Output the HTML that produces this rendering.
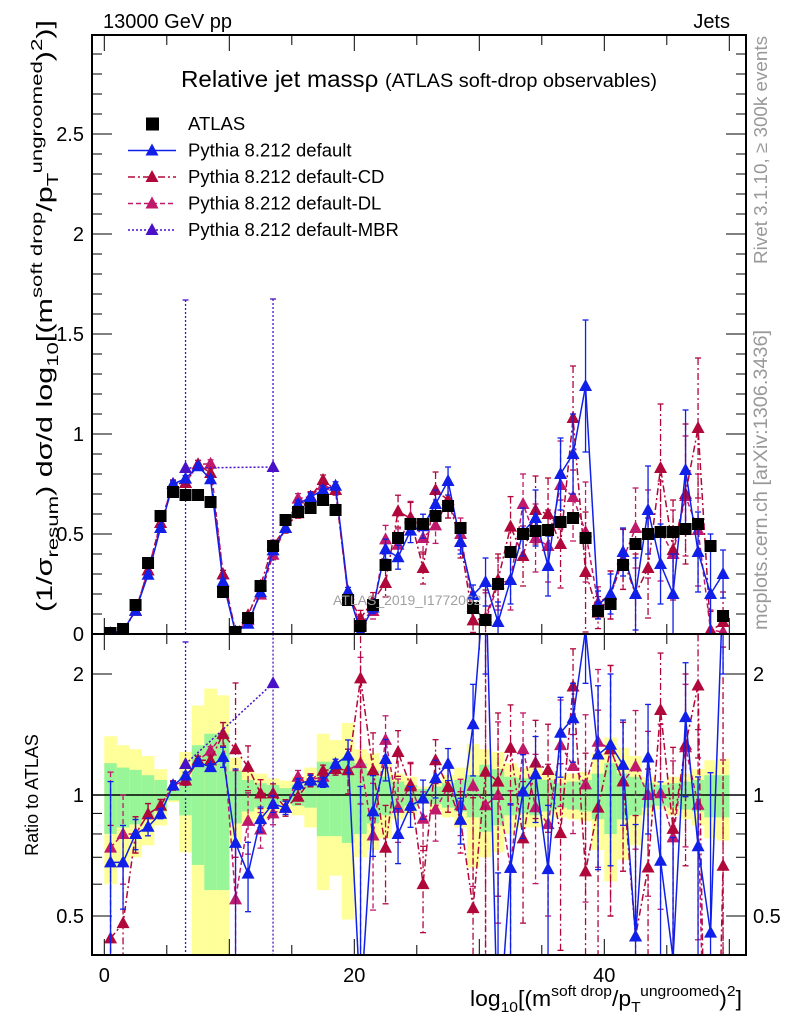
<!DOCTYPE html>
<html><head><meta charset="utf-8"><style>
html,body{margin:0;padding:0;background:#fff;overflow:hidden;width:786px;height:1024px;}
svg{display:block;font-family:"Liberation Sans",sans-serif;}
</style></head><body>
<svg id="chart" width="786" height="1024" viewBox="0 0 786 1024" xmlns="http://www.w3.org/2000/svg">
<defs>
<clipPath id="clipMain"><rect x="92" y="35" width="654" height="599"/></clipPath>
<clipPath id="clipRatio"><rect x="92" y="634" width="654" height="321"/></clipPath>
</defs>
<rect x="0" y="0" width="786" height="1024" fill="#fff"/>
<g id="bands" clip-path="url(#clipRatio)"></g>
<g id="ticks"></g>
<g id="mainMarks" clip-path="url(#clipMain)"></g>
<g id="ratioMarks" clip-path="url(#clipRatio)"></g>
<rect x="92" y="35" width="654" height="599" fill="none" stroke="#000" stroke-width="2"/>
<rect x="92" y="634" width="654" height="321" fill="none" stroke="#000" stroke-width="2"/>
<g id="labels">
<text x="103" y="28" font-size="20">13000 GeV pp</text>
<text x="730" y="28" font-size="20" text-anchor="end">Jets</text>
<text x="181" y="87" font-size="23" textLength="476" lengthAdjust="spacingAndGlyphs">Relative jet massρ <tspan font-size="19">(ATLAS soft-drop observables)</tspan></text>
<text x="333" y="605" font-size="14" fill="#a0a0a0">ATLAS_2019_I1772062</text>
<text transform="translate(767,150) rotate(-90)" font-size="18" fill="#999" text-anchor="middle" textLength="228" lengthAdjust="spacingAndGlyphs">Rivet 3.1.10, ≥ 300k events</text>
<text transform="translate(767,480) rotate(-90)" font-size="19" fill="#999" text-anchor="middle" textLength="300" lengthAdjust="spacingAndGlyphs">mcplots.cern.ch [arXiv:1306.3436]</text>
<text transform="translate(52,612) rotate(-90)" font-size="22" textLength="592" lengthAdjust="spacingAndGlyphs">(1/σ<tspan font-size="16" dy="6">resum</tspan><tspan dy="-6">) dσ/d log</tspan><tspan font-size="16" dy="6">10</tspan><tspan dy="-6">[(m</tspan><tspan font-size="16" dy="-10">soft drop</tspan><tspan dy="10">/p</tspan><tspan font-size="16" dy="6">T</tspan><tspan font-size="16" dy="-16">ungroomed</tspan><tspan dy="10">)</tspan><tspan font-size="16" dy="-10">2</tspan><tspan dy="10">)]</tspan></text>
<text transform="translate(38,795) rotate(-90)" font-size="18" text-anchor="middle">Ratio to ATLAS</text>
<text x="470" y="1006" font-size="22" textLength="272" lengthAdjust="spacingAndGlyphs">log<tspan font-size="15" dy="6">10</tspan><tspan dy="-6">[(m</tspan><tspan font-size="15" dy="-10">soft drop</tspan><tspan dy="10">/p</tspan><tspan font-size="15" dy="6">T</tspan><tspan font-size="15" dy="-16">ungroomed</tspan><tspan dy="10">)</tspan><tspan font-size="15" dy="-10">2</tspan><tspan dy="10">]</tspan></text>
</g>
<g id="legend"></g>
</svg>
<script>
const binCenters = [0.5,1.5,2.5,3.5,4.5,5.5,6.5,7.5,8.5,9.5,10.5,11.5,12.5,13.5,14.5,15.5,16.5,17.5,18.5,19.5,20.5,21.5,22.5,23.5,24.5,25.5,26.5,27.5,28.5,29.5,30.5,31.5,32.5,33.5,34.5,35.5,36.5,37.5,38.5,39.5,40.5,41.5,42.5,43.5,44.5,45.5,46.5,47.5,48.5,49.5];
const atlasValues = [0.005,0.025,0.145,0.355,0.59,0.71,0.695,0.695,0.66,0.21, 0.01,0.08,0.24,0.44,0.57,0.61,0.63,0.67,0.62,0.17, 0.04,0.145,0.345,0.48,0.55,0.55,0.59,0.64,0.53,0.13, 0.07,0.25,0.41,0.50,0.515,0.52,0.56,0.58,0.48,0.115, 0.15,0.345,0.45,0.50,0.51,0.51,0.525,0.55,0.44,0.09];
const yellowErr = [0.40,0.33,0.30,0.25,0.16,0.04,0.28,0.67,0.84,0.77, 0.24,0.15,0.13,0.10,0.086,0.11,0.17,0.42,0.37,0.51, 0.30,0.27,0.22,0.13,0.11,0.05,0.08,0.12,0.17,0.34, 0.30,0.28,0.20,0.17,0.17,0.15,0.12,0.13,0.14,0.27, 0.39,0.31,0.25,0.11,0.08,0.11,0.13,0.16,0.22,0.23];
const greenErr = [0.20,0.17,0.155,0.12,0.09,0.03,0.11,0.33,0.42,0.42, 0.15,0.09,0.07,0.06,0.04,0.06,0.07,0.21,0.21,0.24, 0.20,0.15,0.11,0.08,0.06,0.035,0.05,0.07,0.09,0.12, 0.19,0.16,0.11,0.10,0.11,0.09,0.07,0.08,0.09,0.13, 0.20,0.13,0.11,0.07,0.06,0.07,0.08,0.09,0.12,0.12];
const defaultValues = [0.0034,0.017,0.116,0.296,0.53,0.75,0.777,0.839,0.774,0.261, 0.0076,0.051,0.209,0.418,0.53,0.65,0.685,0.72,0.741,0.213, 0.012,0.132,0.424,0.384,0.517,0.539,0.65,0.765,0.46,0.195, 0.26,0.06,0.27,0.51,0.58,0.34,0.80,0.90,1.24,0.145, 0.20,0.41,0.20,0.62,0.35,0.20,0.82,0.41,0.20,0.30];
const defaultErr = [0.002,0.004,0.01,0.015,0.015,0.015,0.015,0.015,0.015,0.015, 0.004,0.01,0.015,0.02,0.02,0.02,0.02,0.02,0.02,0.02, 0.03,0.03,0.05,0.06,0.06,0.06,0.07,0.07,0.06,0.05, 0.12,0.10,0.12,0.12,0.14,0.15,0.18,0.20,0.33,0.07, 0.10,0.12,0.18,0.22,0.20,0.20,0.30,0.20,0.30,0.12];
const cdValues = [0.0022,0.012,0.116,0.318,0.555,0.75,0.755,0.848,0.805,0.298, 0.013,0.094,0.242,0.444,0.53,0.604,0.685,0.77,0.72,0.196, 0.078,0.167,0.255,0.614,0.578,0.33,0.72,0.67,0.46,0.068, 0.08,0.27,0.537,0.39,0.62,0.60,0.45,1.08,0.31,0.107, 0.195,0.373,0.20,0.33,0.83,0.42,0.70,1.03,0.013,0.06];
const cdErr = [0.002,0.005,0.012,0.02,0.02,0.02,0.02,0.02,0.02,0.02, 0.006,0.012,0.02,0.025,0.025,0.025,0.025,0.025,0.025,0.025, 0.04,0.04,0.07,0.08,0.08,0.08,0.09,0.09,0.08,0.06, 0.14,0.13,0.15,0.15,0.17,0.18,0.22,0.26,0.30,0.08, 0.12,0.15,0.20,0.25,0.32,0.25,0.35,0.35,0.10,0.15];
const dlValues = [0.0037,0.02,0.116,0.318,0.555,0.75,0.755,0.848,0.851,0.298, 0.0055,0.069,0.197,0.396,0.53,0.677,0.687,0.744,0.72,0.196, 0.048,0.115,0.473,0.446,0.583,0.48,0.543,0.67,0.50,0.137, 0.066,0.25,0.27,0.65,0.48,0.44,0.745,0.685,0.51,0.156, 0.195,0.373,0.53,0.50,0.515,0.40,0.69,0.52,0.02,0.01];
const dlErr = [0.002,0.005,0.012,0.02,0.02,0.02,0.02,0.02,0.02,0.02, 0.006,0.012,0.02,0.025,0.025,0.025,0.025,0.025,0.025,0.025, 0.04,0.04,0.07,0.08,0.08,0.08,0.09,0.09,0.08,0.06, 0.14,0.13,0.15,0.15,0.17,0.18,0.22,0.22,0.25,0.08, 0.12,0.15,0.20,0.22,0.25,0.22,0.30,0.28,0.10,0.10];
const mbrBins = [6.5,13.5];
const mbrValues = [0.83,0.835];
const mbrErr = [0.84,0.84];
const mbrAtlas = [0.695,0.44];
const mainYTicks = [0,0.5,1,1.5,2,2.5];
const mainYTickLabels = ["0","0.5","1","1.5","2","2.5"];
const xTickLabelsVals = [0,20,40];
const ratioTickVals = [0.5,1,2];
const ratioTickLabels = ["0.5","1","2"];

const NS = "http://www.w3.org/2000/svg";
function X(v){return 104.3 + 12.5*v;}
function YM(v){return 634 - 200*v;}
function YR(r){ if(r<0.01) r=0.01; return 795 - 121*Math.log2(r);}
function mk(tag, attrs, parent){
  const e=document.createElementNS(NS,tag);
  for(const k in attrs) e.setAttribute(k,attrs[k]);
  parent.appendChild(e); return e;
}
const bandsG=document.getElementById('bands');
const ticksG=document.getElementById('ticks');
const mainG=document.getElementById('mainMarks');
const ratioG=document.getElementById('ratioMarks');
const legendG=document.getElementById('legend');

binCenters.forEach((c,i)=>{
  const y1=mk('rect',{x:X(c-0.5),width:12.6,y:YR(1+yellowErr[i]),height:YR(1-yellowErr[i])-YR(1+yellowErr[i]),fill:'#ffff99'},bandsG);
  
  
  const g1=mk('rect',{x:X(c-0.5),width:12.6,y:YR(1+greenErr[i]),height:YR(1-greenErr[i])-YR(1+greenErr[i]),fill:'#98f598'},bandsG);
  
  
});
const ref=mk('line',{x1:92,x2:746,y1:YR(1),y2:YR(1),stroke:'#000','stroke-width':1.5},bandsG);



for(let v=0; v<=2.95; v+=0.1){
  const y=YM(v); const major=Math.abs(v*2-Math.round(v*2))<1e-6;
  const L=major?20:10;
  mk('line',{x1:92,x2:92+L,y1:y,y2:y,stroke:'#000','stroke-width':1},ticksG);
  mk('line',{x1:746,x2:746-L,y1:y,y2:y,stroke:'#000','stroke-width':1},ticksG);
}
mainYTicks.forEach((v,i)=>{
  const t=mk('text',{x:84,y:YM(v)+7,'font-size':20,'text-anchor':'end'},ticksG);
  t.textContent=mainYTickLabels[i];
  
  
});
for(let v=0; v<=50; v+=5){
  const L=(v%10===0)?16:10;
  mk('line',{x1:X(v),x2:X(v),y1:634,y2:634-L,stroke:'#000'},ticksG);
  mk('line',{x1:X(v),x2:X(v),y1:634,y2:634+L,stroke:'#000'},ticksG);
  mk('line',{x1:X(v),x2:X(v),y1:955,y2:955-L,stroke:'#000'},ticksG);
  mk('line',{x1:X(v),x2:X(v),y1:35,y2:35+L,stroke:'#000'},ticksG);
}
xTickLabelsVals.forEach(v=>{
  const t=mk('text',{x:X(v),y:982,'font-size':20,'text-anchor':'middle'},ticksG);
  t.textContent=String(v);
  
  
});
[0.4,0.5,0.6,0.7,0.8,0.9,1,2].forEach(r=>{
  const L=(r===0.5||r===1||r===2)?20:10;
  mk('line',{x1:92,x2:92+L,y1:YR(r),y2:YR(r),stroke:'#000'},ticksG);
  mk('line',{x1:746,x2:746-L,y1:YR(r),y2:YR(r),stroke:'#000'},ticksG);
});
ratioTickVals.forEach((r,i)=>{
  const t=mk('text',{x:84,y:YR(r)+7,'font-size':20,'text-anchor':'end'},ticksG);
  t.textContent=ratioTickLabels[i];
  
  
  const t2=mk('text',{x:753,y:YR(r)+7,'font-size':20},ticksG);
  t2.textContent=ratioTickLabels[i];
  
  
});

function tri(x,y,col,g){
  return mk('polygon',{points:`${x},${y-7} ${x-6.5},${y+5} ${x+6.5},${y+5}`,fill:col},g);
}
function drawSeries(vals,errs,col,dash,name,isRatio,g,xs,atl){
  const pts=[];
  xs.forEach((c,i)=>{
    const x=X(c);
    let v=vals[i], e=errs[i];
    let y,yt,yb;
    if(isRatio){ const a=atl[i]; y=YR(v/a); yt=YR((v+e)/a); yb=YR((v-e)/a); }
    else { y=YM(v); yt=YM(v+e); yb=YM(v-e); }
    pts.push(x+','+y);
    const eb=mk('line',{x1:x,x2:x,y1:yt,y2:yb,stroke:col,'stroke-width':1.3,'stroke-dasharray':dash},g);
    
    
    mk('line',{x1:x-3,x2:x+3,y1:yt,y2:yt,stroke:col,'stroke-width':1.3},g);
    mk('line',{x1:x-3,x2:x+3,y1:yb,y2:yb,stroke:col,'stroke-width':1.3},g);
  });
  const pl=mk('polyline',{points:pts.join(' '),fill:'none',stroke:col,'stroke-width':1.5,'stroke-dasharray':dash},g);
  
  
  pts.forEach(p=>{
    const [x,y]=p.split(',').map(Number);
    const t=tri(x,y,col,g);
    
    
  });
}
const series=[
  [dlValues,dlErr,'#c0186a','5,3','pythia-default-dl'],
  [cdValues,cdErr,'#b0083a','7,3,2,3','pythia-default-cd'],
  [defaultValues,defaultErr,'#1020e8','','pythia-default'],
];
series.forEach(s=>{
  drawSeries(s[0],s[1],s[2],s[3],s[4],false,mainG,binCenters,atlasValues);
  drawSeries(s[0],s[1],s[2],s[3],s[4],true,ratioG,binCenters,atlasValues);
});
drawSeries(mbrValues,mbrErr,'#4a10c8','2,2','pythia-default-mbr',false,mainG,mbrBins,mbrAtlas);
drawSeries(mbrValues,mbrErr,'#4a10c8','2,2','pythia-default-mbr',true,ratioG,mbrBins,mbrAtlas);

binCenters.forEach((c,i)=>{
  const r=mk('rect',{x:X(c)-6,y:YM(atlasValues[i])-6,width:12,height:12,fill:'#000'},mainG);
  
  
});

const legRows=[
  ['ATLAS','sq','#000',''],
  ['Pythia 8.212 default','tri','#1020e8',''],
  ['Pythia 8.212 default-CD','tri','#b0083a','7,3,2,3'],
  ['Pythia 8.212 default-DL','tri','#c0186a','5,3'],
  ['Pythia 8.212 default-MBR','tri','#4a10c8','2,2'],
];
legRows.forEach((row,i)=>{
  const y=124+26.5*i;
  const g=mk('g',{},legendG);
  
  
  if(row[1]==='sq'){ mk('rect',{x:146,y:y-6.5,width:13,height:13,fill:'#000'},g); }
  else {
    mk('line',{x1:128,x2:176,y1:y,y2:y,stroke:row[2],'stroke-width':1.5,'stroke-dasharray':row[3]},g);
    tri(152,y,row[2],g);
  }
  const t=mk('text',{x:188,y:y+6,'font-size':18.5},g);
  t.textContent=row[0];
});
</script>
</body></html>
